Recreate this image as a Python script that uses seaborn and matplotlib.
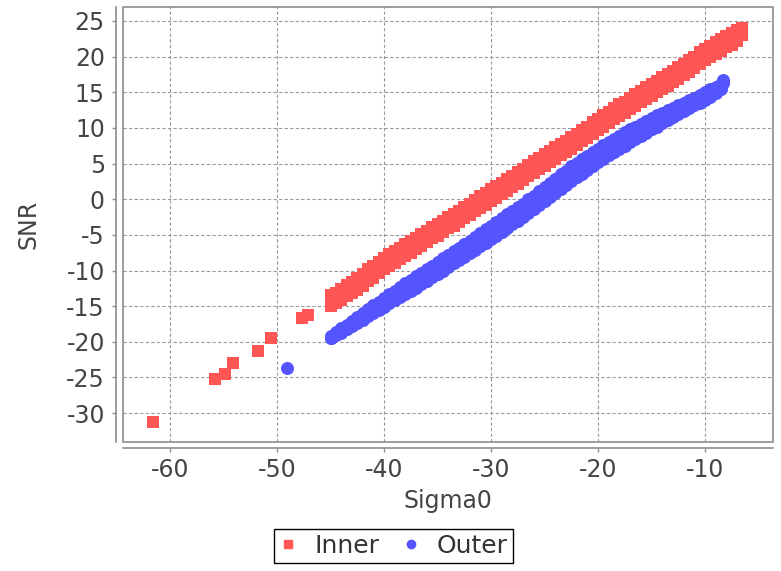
import matplotlib
matplotlib.use("Agg")
import matplotlib.pyplot as plt
import numpy as np
import pandas as pd
import seaborn as sns
from matplotlib.lines import Line2D
from matplotlib.patches import Rectangle

# ---------------- data ----------------
inner_out_sigma0 = [-61.6, -55.8, -54.9, -54.1, -51.8, -50.6, -47.7, -47.1]
inner_out_snr = [-31.3, -25.2, -24.5, -22.9, -21.3, -19.4, -16.6, -16.3]

# dense band: upper and lower edge rows, read at whole and half steps of Sigma0
inner_band_sigma0 = [-45, -44, -43, -42, -41, -40, -39, -38, -37, -36,
                     -35, -34, -33, -32, -31, -30, -29, -28, -27, -26,
                     -25, -24, -23, -22, -21, -20, -19, -18, -17, -16,
                     -15, -14, -13, -12, -11, -10, -9, -8, -7, -6.5]
inner_snr_upper = [-13.5, -12.6, -11.6, -10.5, -9.3, -8.2, -7.3, -6.3, -5.4, -4.4,
                   -3.5, -2.5, -1.6, -0.6, 0.4, 1.4, 2.3, 3.3, 4.3, 5.3,
                   6.3, 7.3, 8.2, 9.2, 10.2, 11.3, 12.3, 13.3, 14.2, 15.2,
                   16.1, 17.1, 18.0, 19.0, 20.0, 21.1, 22.0, 22.9, 23.8, 24.0]
inner_snr_lower = [-15.0, -14.1, -13.2, -12.1, -11.0, -9.8, -8.9, -7.9, -7.0, -6.0,
                   -5.1, -4.1, -3.2, -2.2, -1.2, -0.3, 0.7, 1.7, 2.7, 3.7,
                   4.7, 5.7, 6.6, 7.6, 8.6, 9.7, 10.7, 11.7, 12.6, 13.6,
                   14.5, 15.5, 16.4, 17.4, 18.4, 19.5, 20.4, 21.3, 22.2, 23.0]

inner_half_sigma0 = [-44.5, -43.5, -42.5, -41.5, -40.5, -39.5, -38.5, -37.5, -36.5, -35.5,
                     -34.5, -33.5, -32.5, -31.5, -30.5, -29.5, -28.5, -27.5, -26.5, -25.5,
                     -24.5, -23.5, -22.5, -21.5, -20.5, -19.5, -18.5, -17.5, -16.5, -15.5,
                     -14.5, -13.5, -12.5, -11.5, -10.5, -9.5, -8.5, -7.5]
inner_half_upper = [-13.1, -12.0, -11.1, -9.8, -8.8, -7.7, -6.8, -5.9, -4.9, -3.9,
                    -3.0, -2.1, -1.1, -0.1, 0.9, 1.9, 2.8, 3.8, 4.8, 5.8,
                    6.8, 7.7, 8.7, 9.7, 10.8, 11.8, 12.8, 13.7, 14.7, 15.7,
                    16.6, 17.5, 18.5, 19.5, 20.6, 21.5, 22.5, 23.3]
inner_half_lower = [-14.6, -13.6, -12.7, -11.5, -10.4, -9.4, -8.4, -7.5, -6.5, -5.5,
                    -4.6, -3.7, -2.7, -1.7, -0.8, 0.2, 1.2, 2.2, 3.2, 4.2,
                    5.2, 6.2, 7.1, 8.1, 9.1, 10.2, 11.2, 12.1, 13.1, 14.0,
                    15.0, 15.9, 16.9, 17.9, 18.9, 19.9, 20.8, 21.7]

outer_out_sigma0 = [-49.1]
outer_out_snr = [-23.6]

outer_band_sigma0 = [-45, -44, -43, -42, -41, -40, -39, -38, -37, -36,
                     -35, -34, -33, -32, -31, -30, -29, -28, -27, -26,
                     -25, -24, -23, -22, -21, -20, -19, -18, -17, -16,
                     -15, -14, -13, -12, -11, -10, -9, -8.3]
outer_snr_upper = [-19.2, -18.1, -17.1, -16.0, -14.9, -13.9, -12.8, -11.8, -10.8, -9.8,
                   -8.8, -7.8, -6.8, -5.8, -4.8, -3.7, -2.7, -1.6, -0.6, 0.5,
                   1.7, 2.9, 4.0, 5.1, 6.1, 7.1, 8.0, 8.9, 9.8, 10.6,
                   11.4, 12.1, 12.8, 13.5, 14.2, 15.0, 15.8, 16.7]
outer_snr_mid = [-19.4, -18.4, -17.4, -16.4, -15.4, -14.5, -13.5, -12.5, -11.6, -10.6,
                 -9.6, -8.7, -7.7, -6.7, -5.7, -4.6, -3.6, -2.6, -1.5, -0.4,
                 0.7, 1.9, 3.0, 4.1, 5.1, 6.1, 7.1, 8.0, 8.9, 9.7,
                 10.6, 11.4, 12.2, 13.0, 13.7, 14.5, 15.3, 16.5]
outer_snr_lower = [-19.5, -18.7, -17.8, -16.9, -15.9, -15.1, -14.2, -13.3, -12.4, -11.4,
                   -10.5, -9.5, -8.5, -7.6, -6.6, -5.6, -4.6, -3.5, -2.5, -1.4,
                   -0.2, 0.9, 2.0, 3.1, 4.1, 5.2, 6.2, 7.1, 8.0, 8.9,
                   9.8, 10.7, 11.6, 12.4, 13.2, 13.9, 14.9, 16.3]

outer_half_sigma0 = [-44.5, -43.5, -42.5, -41.5, -40.5, -39.5, -38.5, -37.5, -36.5, -35.5,
                     -34.5, -33.5, -32.5, -31.5, -30.5, -29.5, -28.5, -27.5, -26.5, -25.5,
                     -24.5, -23.5, -22.5, -21.5, -20.5, -19.5, -18.5, -17.5, -16.5, -15.5,
                     -14.5, -13.5, -12.5, -11.5, -10.5, -9.5, -8.5]
outer_half_upper = [-18.6, -17.6, -16.5, -15.4, -14.4, -13.3, -12.3, -11.3, -10.3, -9.3,
                    -8.3, -7.3, -6.3, -5.3, -4.2, -3.2, -2.1, -1.1, 0.0, 1.1,
                    2.3, 3.5, 4.6, 5.6, 6.6, 7.6, 8.5, 9.4, 10.2, 11.0,
                    11.8, 12.5, 13.2, 13.9, 14.6, 15.4, 16.2]
outer_half_mid = [-18.9, -17.9, -16.9, -15.9, -15.0, -14.0, -13.0, -12.1, -11.1, -10.1,
                  -9.2, -8.2, -7.2, -6.2, -5.1, -4.1, -3.1, -2.0, -0.9, 0.1,
                  1.3, 2.4, 3.5, 4.6, 5.6, 6.6, 7.6, 8.5, 9.3, 10.1,
                  11.0, 11.8, 12.6, 13.3, 14.1, 14.9, 15.8]
outer_half_lower = [-19.1, -18.2, -17.3, -16.4, -15.5, -14.6, -13.7, -12.8, -11.9, -10.9,
                    -10.0, -9.0, -8.1, -7.1, -6.1, -5.1, -4.0, -3.0, -1.9, -0.8,
                    0.3, 1.4, 2.5, 3.6, 4.6, 5.7, 6.6, 7.5, 8.4, 9.3,
                    10.2, 11.1, 12.0, 12.8, 13.5, 14.4, 15.5]

x_ticks = [-60, -50, -40, -30, -20, -10]
y_ticks = [-30, -25, -20, -15, -10, -5, 0, 5, 10, 15, 20, 25]
series_names = ["Inner", "Outer"]
series_colors = ["#FF5555", "#5555FF"]

# ---------------- tables ----------------
df_inner = pd.DataFrame({
    "Sigma0": (inner_out_sigma0 + inner_band_sigma0 * 2 + inner_half_sigma0 * 2),
    "SNR": (inner_out_snr + inner_snr_upper + inner_snr_lower
            + inner_half_upper + inner_half_lower),
})
df_outer = pd.DataFrame({
    "Sigma0": outer_out_sigma0 + outer_band_sigma0 * 3 + outer_half_sigma0 * 3,
    "SNR": (outer_out_snr + outer_snr_upper + outer_snr_mid + outer_snr_lower
            + outer_half_upper + outer_half_mid + outer_half_lower),
})

# ---------------- figure ----------------
sns.set_style("white")
plt.rcParams["font.family"] = ["DejaVu Sans"]

fig = plt.figure(figsize=(7.81, 5.71), dpi=100)
ax = fig.add_axes([0.1575, 0.2259, 0.8323, 0.7618])

sns.scatterplot(data=df_inner, x="Sigma0", y="SNR", marker="s", color=series_colors[0],
                s=80, linewidth=0, ax=ax, zorder=3)
sns.scatterplot(data=df_outer, x="Sigma0", y="SNR", marker="o", color=series_colors[1],
                s=88, linewidth=0, ax=ax, zorder=3)

ax.set_xlim(-64.4, -3.64)
ax.set_ylim(-34.05, 26.96)
ax.set_xticks(x_ticks)
ax.set_yticks(y_ticks)
ax.set_xticklabels([str(t) for t in x_ticks])
ax.set_yticklabels([str(t) for t in y_ticks])

ax.grid(True, color="#9a9a9a", linestyle=(0, (3, 2)), linewidth=0.8)
ax.set_axisbelow(True)

frame_col = "#8c8c8c"
for side in ["top", "right"]:
    ax.spines[side].set_visible(False)
ax.spines["left"].set_position(("outward", 5))
ax.spines["bottom"].set_position(("outward", 4.3))
for side in ["left", "bottom"]:
    ax.spines[side].set_color(frame_col)
    ax.spines[side].set_linewidth(1.2)
ax.add_patch(Rectangle((0, 0), 1, 1, transform=ax.transAxes, fill=False,
                       edgecolor=frame_col, linewidth=1.2, clip_on=False, zorder=5))

ax.tick_params(axis="both", which="major", bottom=True, left=True, direction="out",
               length=3, width=1, color=frame_col, labelcolor="#444444", labelsize=17)
ax.tick_params(axis="y", pad=5)
ax.tick_params(axis="x", pad=4)

ax.set_xlabel("Sigma0", fontsize=17, color="#444444")
ax.set_ylabel("SNR", fontsize=17, color="#444444")
ax.xaxis.set_label_coords(0.5, -0.108)
ax.yaxis.set_label_coords(-0.127, 0.5)

handles = [
    Line2D([], [], marker="s", color=series_colors[0], linestyle="", markersize=6),
    Line2D([], [], marker="o", color=series_colors[1], linestyle="", markersize=6),
]
leg = fig.legend(handles, series_names, loc="center", bbox_to_anchor=(0.504, 0.0438),
                 ncol=2, frameon=True, fancybox=False, edgecolor="black", framealpha=1,
                 handlelength=0.7, handletextpad=0.7, columnspacing=0.9, borderpad=0.2,
                 fontsize=18)
leg.get_frame().set_linewidth(1.0)
for t in leg.get_texts():
    t.set_color("#333333")

fig.savefig("out.png", dpi=100)
